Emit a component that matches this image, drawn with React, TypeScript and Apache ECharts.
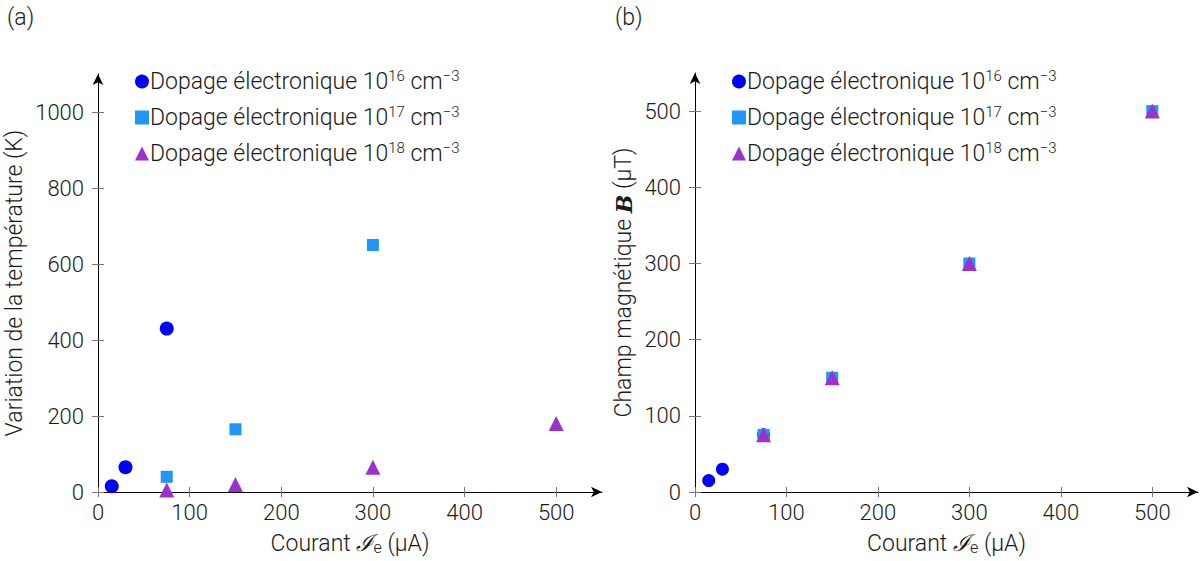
import React, { useEffect, useRef } from "react";
import * as echarts from "echarts";

const xTicks = [0, 100, 200, 300, 400, 500];
const yTicksA = [0, 200, 400, 600, 800, 1000];
const yTicksB = [0, 100, 200, 300, 400, 500];

// Panel (a): temperature variation (K) vs current (µA)
const a16: [number, number][] = [[15, 15], [30, 65], [75, 430]];
const a17: [number, number][] = [[75, 40], [150, 165], [300, 650]];
const a18: [number, number][] = [[75, 5], [150, 20], [300, 65], [500, 180]];

// Panel (b): magnetic field (µT) vs current (µA)
const b16: [number, number][] = [[15, 15], [30, 30], [75, 75]];
const b17: [number, number][] = [[75, 75], [150, 150], [300, 300], [500, 500]];
const b18: [number, number][] = [[75, 75], [150, 150], [300, 300], [500, 500]];

const seriesNames = ["d16", "d17", "d18"];
const seriesExp = ["16", "17", "18"];
const colors = ["#0000F5", "#2196F3", "#9933CC"];
const symbols = ["circle", "rect", "triangle"];
const symbolSizes = [14, 12, 15];

const FONT = "Roboto, 'DejaVu Sans', sans-serif";
const TXT = "#1a1a1a";
const W = 300;

export default function App() {
  const ref = useRef<HTMLDivElement>(null);
  useEffect(() => {
    if (!ref.current) return;
    const chart = echarts.init(ref.current, null, { renderer: "svg" });

    const rich = {
      n: { fontFamily: FONT, fontSize: 23, fontWeight: W, color: TXT },
      s: { fontFamily: FONT, fontSize: 15, fontWeight: W, color: TXT, padding: [0, 0, 12, 0] },
      i: { fontFamily: "'DejaVu Serif', serif", fontSize: 23, color: TXT, fontStyle: "italic" },
      b: { fontFamily: "'DejaVu Serif', serif", fontSize: 22, color: TXT, fontStyle: "italic", fontWeight: "bold" },
      sub: { fontFamily: FONT, fontSize: 16, fontWeight: W, color: TXT, padding: [8, 0, 0, 0] },
    };

    const numFmt = (v: number) => String(v);

    const mkX = (gi: number) => ({
      type: "value",
      gridIndex: gi,
      position: "bottom",
      min: 0,
      max: 550,
      axisLine: { show: true, symbol: ["none", "arrow"], symbolSize: [8, 11], lineStyle: { color: "#000", width: 1 } },
      axisTick: { show: true, length: 5, customValues: xTicks, lineStyle: { color: "#777" } },
      axisLabel: { customValues: xTicks, formatter: numFmt, fontFamily: FONT, fontSize: 22, fontWeight: W, color: TXT, margin: 9 },
      splitLine: { show: false },
      name: "{n|Courant} {i|ℐ}{sub|e} {n|(µA)}",
      nameLocation: "middle",
      nameGap: 39,
      nameTextStyle: { fontFamily: FONT, fontSize: 23, color: TXT, rich },
    });
    const mkXIn = (gi: number) => ({
      type: "value",
      gridIndex: gi,
      position: "bottom",
      offset: 0,
      min: 0,
      max: 550,
      axisLine: { show: false },
      axisTick: { show: true, inside: true, length: 5, customValues: xTicks, lineStyle: { color: "#777" } },
      axisLabel: { show: false },
      splitLine: { show: false },
    });
    const mkY = (gi: number, max: number, ticks: number[], name: string, gap: number) => ({
      type: "value",
      gridIndex: gi,
      position: "left",
      min: 0,
      max,
      axisLine: { show: true, symbol: ["none", "arrow"], symbolSize: [8, 11], lineStyle: { color: "#000", width: 1 } },
      axisTick: { show: true, length: 6, customValues: ticks, lineStyle: { color: "#777" } },
      axisLabel: { customValues: ticks, formatter: numFmt, fontFamily: FONT, fontSize: 22, fontWeight: W, color: TXT, margin: 14 },
      splitLine: { show: false },
      name,
      nameLocation: "middle",
      nameRotate: 90,
      nameGap: gap,
      nameTextStyle: { fontFamily: FONT, fontSize: 23, color: TXT, rich },
    });
    const mkYIn = (gi: number, max: number, ticks: number[]) => ({
      type: "value",
      gridIndex: gi,
      position: "left",
      offset: 0,
      min: 0,
      max,
      axisLine: { show: false },
      axisTick: { show: true, inside: true, length: 6, customValues: ticks, lineStyle: { color: "#777" } },
      axisLabel: { show: false },
      splitLine: { show: false },
    });

    const mkSeries = (data: [number, number][], k: number, axisIdx: number, size?: number) => ({
      type: "scatter",
      name: seriesNames[k],
      xAxisIndex: axisIdx,
      yAxisIndex: axisIdx,
      data,
      symbol: symbols[k],
      symbolSize: size ?? symbolSizes[k],
      itemStyle: { color: colors[k], opacity: 1 },
      z: 3 + k,
    });

    const mkLegend = (left: number) => ({
      orient: "vertical",
      left,
      top: 63,
      itemGap: 11,
      itemWidth: 14,
      itemHeight: 14,
      data: seriesNames.map((n, k) => ({ name: n, icon: symbols[k] })),
      formatter: (name: string) => {
        const k = seriesNames.indexOf(name);
        return `{n|Dopage électronique 10}{s|${seriesExp[k]}}{n| cm}{s|−3}`;
      },
      textStyle: { fontFamily: FONT, fontSize: 23, color: TXT, rich, padding: [0, 0, 0, -4] },
      selectedMode: false,
    });

    chart.setOption({
      animation: false,
      backgroundColor: "#ffffff",
      textStyle: { fontFamily: FONT },
      grid: [
        { left: 98, top: 74, width: 504, height: 418, containLabel: false, outerBoundsMode: "none" },
        { left: 695, top: 73, width: 503, height: 419, containLabel: false, outerBoundsMode: "none" },
      ],
      xAxis: [mkX(0), mkX(1), mkXIn(0), mkXIn(1)],
      yAxis: [
        mkY(0, 1100, yTicksA, "{n|Variation de la température (K)}", 72),
        mkY(1, 550, yTicksB, "{n|Champ magnétique} {b|B} {n|(µT)}", 60),
        mkYIn(0, 1100, yTicksA),
        mkYIn(1, 550, yTicksB),
      ],
      legend: [mkLegend(130), mkLegend(727)],
      series: [
        mkSeries(a16, 0, 0),
        mkSeries(a17, 1, 0),
        mkSeries(a18, 2, 0),
        mkSeries(b16, 0, 1, 13),
        mkSeries(b17, 1, 1),
        mkSeries(b18, 2, 1),
      ],
      graphic: [
        { type: "text", left: 7, top: 6, style: { text: "(a)", font: `300 23px ${FONT}`, fill: TXT } },
        { type: "text", left: 615, top: 6, style: { text: "(b)", font: `300 23px ${FONT}`, fill: TXT } },
      ],
    });
    return () => chart.dispose();
  }, []);
  return <div ref={ref} style={{ position: "fixed", left: 0, top: 0, width: 1203, height: 561 }} />;
}
